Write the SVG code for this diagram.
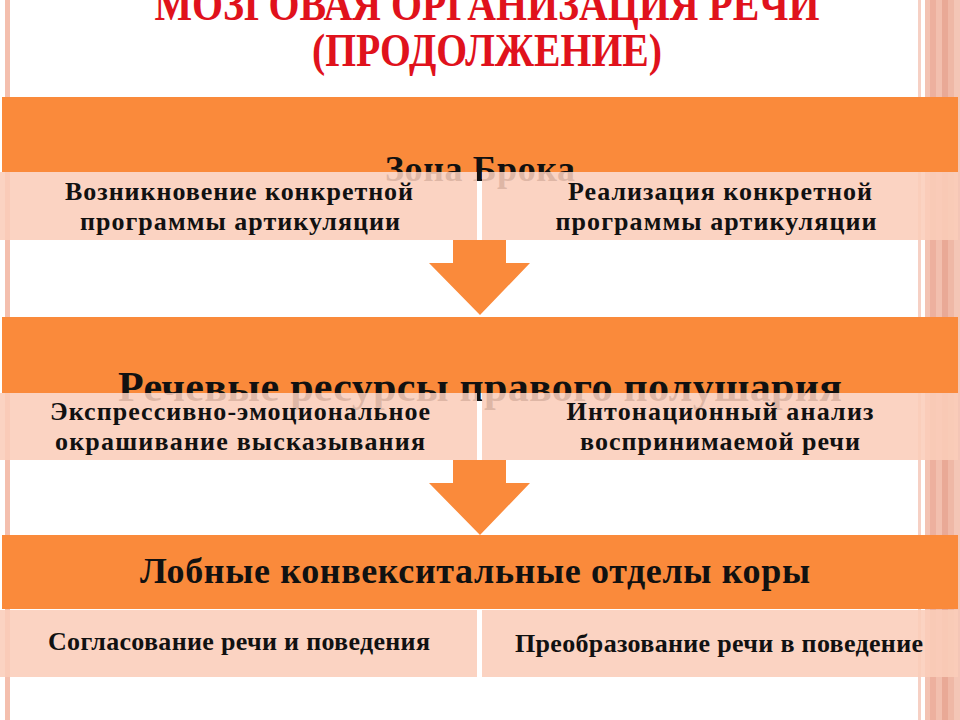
<svg xmlns="http://www.w3.org/2000/svg" width="960" height="720" viewBox="0 0 960 720">
  <style>
    .title { font-family: "Liberation Serif", "Times New Roman", serif; font-weight: bold; fill: #E0121C; font-size: 46px; text-anchor: middle; }
    .band { fill: #FA8A3B; }
    .box { fill: #FBCDB9; fill-opacity: 0.88; }
    .head { font-family: "Liberation Serif", "Times New Roman", serif; font-weight: bold; fill: #111; text-anchor: middle; }
    .txt { font-family: "Liberation Serif", "Times New Roman", serif; font-weight: bold; fill: #111; font-size: 26px; text-anchor: middle; }
    .arrow { fill: #FA8A3B; }
  </style>
  <rect width="960" height="720" fill="#FFFFFF"/>
  <!-- decorative side lines -->
  <g id="decor">
    <rect x="5" y="0" width="5" height="720" fill="#F4BFAE"/>
    <rect x="918" y="0" width="3" height="720" fill="#F6D0C4"/>
    <rect x="925" y="0" width="5" height="720" fill="#F3C2B2"/>
    <rect x="930" y="0" width="6" height="720" fill="#EDB09E"/>
    <rect x="936" y="0" width="6" height="720" fill="#F2BFAE"/>
    <rect x="942" y="0" width="6" height="720" fill="#E9A996"/>
    <rect x="948" y="0" width="6" height="720" fill="#EFB8A6"/>
    <rect x="954" y="0" width="6" height="720" fill="#F4C6B6"/>
  </g>
  <g id="title">
    <text class="title" x="487" y="20" textLength="665" lengthAdjust="spacingAndGlyphs">МОЗГОВАЯ ОРГАНИЗАЦИЯ РЕЧИ</text>
    <text class="title" x="487" y="66" textLength="350" lengthAdjust="spacingAndGlyphs">(ПРОДОЛЖЕНИЕ)</text>
  </g>
  <g id="connectors">
    <polygon class="arrow" points="453,240 506,240 506,263 530,263 480,315 429,263 453,263"/>
    <polygon class="arrow" points="453,460 506,460 506,483 530,483 480,535 429,483 453,483"/>
  </g>
  <g id="broca">
    <rect class="band" x="2" y="97" width="956" height="75"/>
    <text class="head" x="480" y="181" font-size="36" textLength="190" lengthAdjust="spacing">Зона Брока</text>
  </g>
  <g id="broca-left">
    <rect class="box" x="0" y="172" width="477" height="68"/>
    <text class="txt" x="239" y="200" textLength="348" lengthAdjust="spacing">Возникновение конкретной</text>
    <text class="txt" x="240" y="230" textLength="320" lengthAdjust="spacing">программы артикуляции</text>
  </g>
  <g id="broca-right">
    <rect class="box" x="482" y="172" width="476" height="68"/>
    <text class="txt" x="720" y="200" textLength="304" lengthAdjust="spacing">Реализация конкретной</text>
    <text class="txt" x="716" y="230" textLength="321" lengthAdjust="spacing">программы артикуляции</text>
  </g>
  <g id="right-hemisphere">
    <rect class="band" x="2" y="317" width="956" height="76"/>
    <text class="head" x="480" y="401" font-size="42" textLength="724" lengthAdjust="spacing">Речевые ресурсы правого полушария</text>
  </g>
  <g id="rh-left">
    <rect class="box" x="0" y="393" width="477" height="67"/>
    <text class="txt" x="240" y="420" textLength="380" lengthAdjust="spacing">Экспрессивно-эмоциональное</text>
    <text class="txt" x="240" y="450" textLength="370" lengthAdjust="spacing">окрашивание высказывания</text>
  </g>
  <g id="rh-right">
    <rect class="box" x="482" y="393" width="476" height="67"/>
    <text class="txt" x="720" y="420" textLength="307" lengthAdjust="spacing">Интонационный анализ</text>
    <text class="txt" x="720" y="450" textLength="280" lengthAdjust="spacing">воспринимаемой речи</text>
  </g>
  <g id="frontal">
    <rect class="band" x="2" y="535" width="956" height="74"/>
    <text class="head" x="475" y="583" font-size="36" textLength="670" lengthAdjust="spacing">Лобные конвекситальные отделы коры</text>
  </g>
  <g id="frontal-left">
    <rect class="box" x="0" y="610" width="477" height="67"/>
    <text class="txt" x="239" y="650" textLength="382" lengthAdjust="spacing">Согласование речи и поведения</text>
  </g>
  <g id="frontal-right">
    <rect class="box" x="482" y="610" width="476" height="67"/>
    <text class="txt" x="719" y="652" textLength="408" lengthAdjust="spacing">Преобразование речи в поведение</text>
  </g>
</svg>
